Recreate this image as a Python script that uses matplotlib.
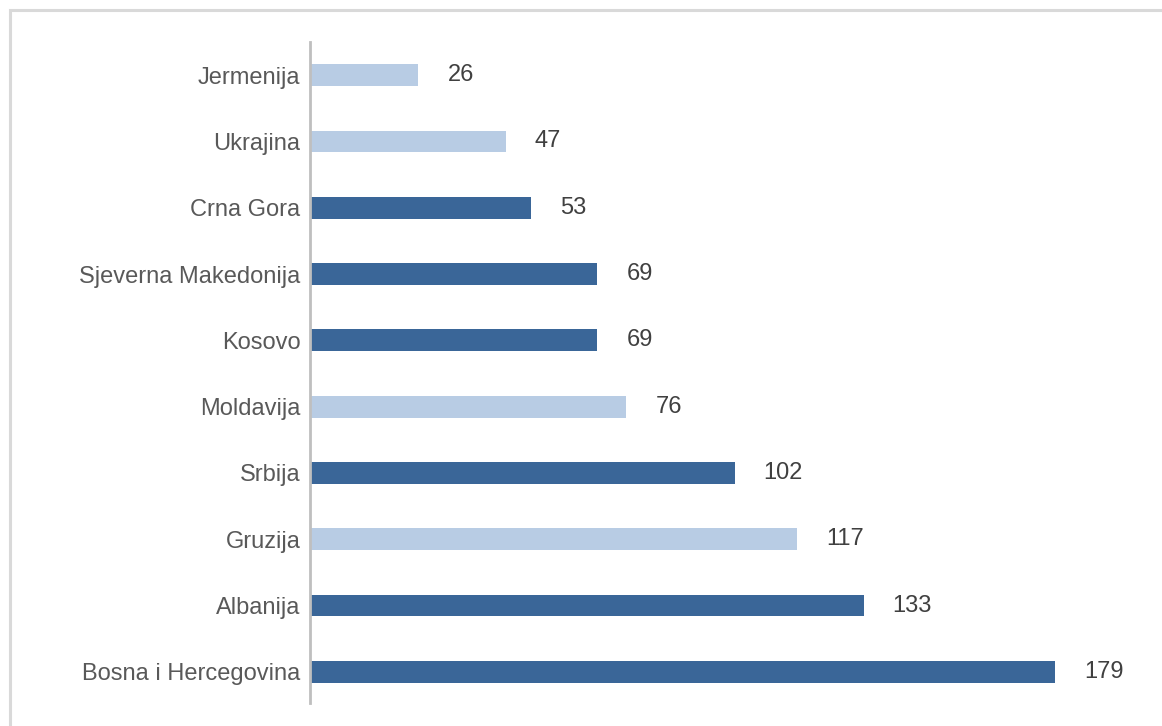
import matplotlib.pyplot as plt
from matplotlib.patches import Rectangle

# Data (top to bottom as shown in the chart)
countries = ['Jermenija', 'Ukrajina', 'Crna Gora', 'Sjeverna Makedonija', 'Kosovo',
             'Moldavija', 'Srbija', 'Gruzija', 'Albanija', 'Bosna i Hercegovina']
values = [26, 47, 53, 69, 69, 76, 102, 117, 133, 179]
highlight = [False, False, True, True, True, False, True, False, True, True]

dark = '#3A6698'
light = '#B8CCE4'
colors = [dark if h else light for h in highlight]

plt.rcParams['font.family'] = ['Liberation Sans', 'DejaVu Sans']

W, H = 1162, 726
fig = plt.figure(figsize=(W / 100, H / 100), dpi=100)
# axes box in pixels: left 310, right ~1140, top 42, bottom 703
ax = fig.add_axes([310 / W, (H - 703) / H, (1140 - 310) / W, (703 - 42) / H])

ypos = list(range(len(countries)))[::-1]
ax.barh(ypos, values, height=0.33, color=colors)

ax.set_ylim(-0.47, 9.5)
ax.set_xlim(0, 179 * (1140 - 310) / (1055 - 310))

ax.set_yticks(ypos)
ax.set_yticklabels(countries, fontsize=17, color='#595959')
ax.tick_params(axis='y', length=0, pad=7)
ax.set_xticks([])

for s in ['top', 'right', 'bottom']:
    ax.spines[s].set_visible(False)
ax.spines['left'].set_color('#BFBFBF')
ax.spines['left'].set_linewidth(2)

for y, v in zip(ypos, values):
    ax.annotate(str(v), (v, y), xytext=(21, 0), textcoords='offset points',
                va='center', ha='left', fontsize=17, color='#404040')

# light grey frame around the chart area
fig.patches.append(Rectangle((10 / W, -0.1), 1.2, (H - 10) / H + 0.1,
                             transform=fig.transFigure, fill=False,
                             edgecolor='#D9D9D9', linewidth=2.2))

fig.savefig('out.png', dpi=100)
